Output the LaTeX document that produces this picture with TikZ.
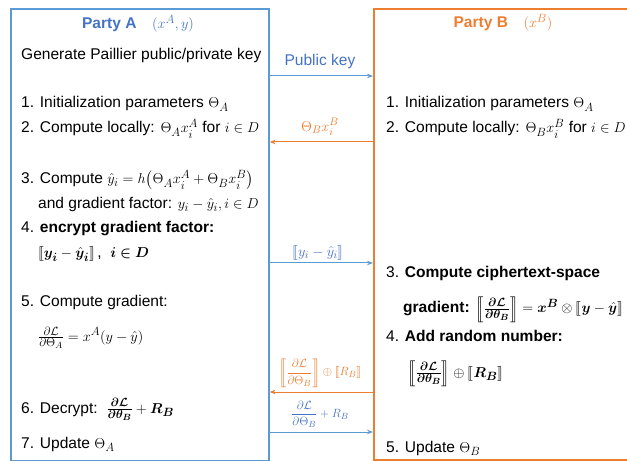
\documentclass[tikz,border=0pt]{standalone}
\usepackage{amsmath,amssymb,bm,stmaryrd}
\usepackage{fontspec}
\setmainfont{Liberation Sans}
\usetikzlibrary{arrows.meta}
\definecolor{partyblue}{HTML}{5B9BD5}
\definecolor{titleblue}{HTML}{4472C4}
\definecolor{partyorange}{HTML}{ED7D31}
\DeclareMathSizes{15.6}{15.6}{11.8}{9.4}
\DeclareMathSizes{15}{15}{11.3}{9}
\DeclareMathSizes{11.5}{11.8}{9}{7.2}

\begin{document}
\begin{tikzpicture}[x=1bp, y=-1bp,
    every node/.style={font=\fontsize{15.6}{18}\selectfont, inner sep=0pt},
    partybox/.style={draw=#1, line width=1.6bp, anchor=north west},
    steptext/.style={anchor=base west},
    toB/.style={draw=partyblue, line width=1bp, -{Stealth[length=6bp,width=4.5bp]}},
    toA/.style={draw=partyorange, line width=1bp, -{Stealth[length=6bp,width=4.5bp]}},
    msg/.style={font=\fontsize{15}{17}\selectfont},
    smallmsg/.style={font=\fontsize{11.5}{13}\selectfont}]
  \useasboundingbox (0,0) rectangle (627,461);
  \clip (0,0) rectangle (627,461);

  % the two parties
  \node[partybox=partyblue, minimum width=258bp, minimum height=452bp] (partyA) at (10,8) {};
  \node[partybox=partyorange, minimum width=270bp, minimum height=451bp] (partyB) at (373,8) {};

  % Party A
  \node[anchor=base, text=titleblue] (titleA) at (138,29) {\textbf{Party A}\quad$(x^A, y)$};
  \node[steptext] (a0) at (21,60) {Generate Paillier public/private key};
  \node[steptext] (a1) at (21,108) {1. Initialization parameters $\Theta_A$};
  \node[steptext] (a2) at (21,133) {2. Compute locally: $\Theta_A x_i^A$ for $i \in D$};
  \node[steptext] (a3) at (21,184) {3. Compute $\hat{y}_i = h\big(\Theta_A x_i^A + \Theta_B x_i^B\big)$};
  \node[steptext] (a3b) at (38,209) {and gradient factor: $y_i - \hat{y}_i, i \in D$};
  \node[steptext] (a4) at (21,233) {4. \textbf{encrypt gradient factor:}};
  \node[steptext] (a4b) at (38,258) {$\llbracket \bm{y_i} - \bm{\hat{y}_i} \rrbracket$\,,\ \ $\bm{i \in D}$};
  \node[steptext] (a5) at (21,307) {5. Compute gradient:};
  \node[anchor=west] (a5b) at (38,338) {$\frac{\partial\mathcal{L}}{\partial\Theta_A} = x^A(y - \hat{y})$};
  \node[steptext] (a6) at (21,413) {6. Decrypt:\ \ $\bm{\frac{\partial\mathcal{L}}{\partial\theta_B}} + \bm{R_B}$};
  \node[steptext] (a7) at (21,448) {7. Update $\Theta_A$};

  % Party B
  \node[anchor=base, text=partyorange] (titleB) at (503,28) {\textbf{Party B}\quad$(x^B)$};
  \node[steptext] (b1) at (386,108) {1. Initialization parameters $\Theta_A$};
  \node[steptext] (b2) at (386,133) {2. Compute locally: $\Theta_B x_i^B$ for $i \in D$};
  \node[steptext] (b3) at (386,278) {3. \textbf{Compute ciphertext-space}};
  \node[steptext] (b3b) at (403,313) {\textbf{gradient:} $\left\llbracket \bm{\frac{\partial\mathcal{L}}{\partial\theta_B}} \right\rrbracket = \bm{x^B} \otimes \llbracket \bm{y} - \bm{\hat{y}} \rrbracket$};
  \node[steptext] (b4) at (386,341) {4. \textbf{Add random number:}};
  \node[steptext] (b4b) at (407,377) {$\left\llbracket \bm{\frac{\partial\mathcal{L}}{\partial\theta_B}} \right\rrbracket \oplus \llbracket \bm{R_B} \rrbracket$};
  \node[steptext] (b5) at (386,452) {5. Update $\Theta_B$};

  % messages
  \coordinate (pk) at (0,76);
  \coordinate (fwd) at (0,142);
  \coordinate (enc) at (0,263);
  \coordinate (grad) at (0,392);
  \coordinate (dec) at (0,432);

  \draw[toB] (partyA.east |- pk) -- (partyB.west |- pk);
  \node[text=titleblue] (pkmsg) at (320,61) {Public key};

  \draw[toA] (partyB.west |- fwd) -- (partyA.east |- fwd);
  \node[msg, text=partyorange] (fwdmsg) at (320,127) {$\Theta_B x_i^B$};

  \draw[toB] (partyA.east |- enc) -- (partyB.west |- enc);
  \node[msg, text=titleblue] (encmsg) at (318,253) {$\llbracket y_i - \hat{y}_i \rrbracket$};

  \draw[toA] (partyB.west |- grad) -- (partyA.east |- grad);
  \node[smallmsg, text=partyorange] (gradmsg) at (320,373) {$\left\llbracket \dfrac{\partial\mathcal{L}}{\partial\Theta_B} \right\rrbracket \oplus \llbracket R_B \rrbracket$};

  \draw[toB] (partyA.east |- dec) -- (partyB.west |- dec);
  \node[smallmsg, text=titleblue] (decmsg) at (320,414) {$\dfrac{\partial\mathcal{L}}{\partial\Theta_B} + R_B$};
\end{tikzpicture}
\end{document}
